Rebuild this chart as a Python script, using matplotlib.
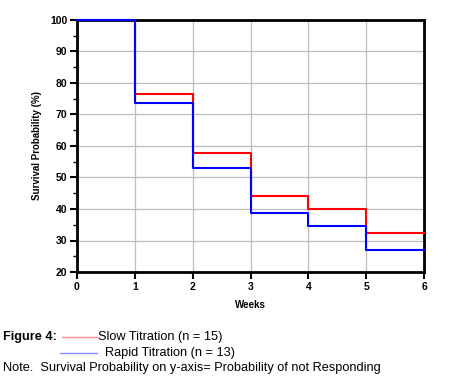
import matplotlib
matplotlib.use("Agg")
import matplotlib.pyplot as plt
from matplotlib.lines import Line2D
import numpy as np

weeks = [0, 1, 2, 3, 4, 5, 6]
slow = [100, 76.5, 57.7, 44.1, 40.0, 32.4, 32.4]
rapid = [100, 73.5, 53.0, 38.8, 34.6, 27.0, 27.0]
xticks = [0, 1, 2, 3, 4, 5, 6]
yticks = [20, 30, 40, 50, 60, 70, 80, 90, 100]

plt.rcParams['font.family'] = ['Liberation Sans', 'DejaVu Sans']

W, H = 455, 379
fig = plt.figure(figsize=(W/100, H/100), dpi=100)
ax = fig.add_axes([77/W, 1-272/H, (424-77)/W, (272-20)/H])

ax.step(weeks, slow, where='post', color='#ff0000', lw=1.5, zorder=3, clip_on=False)
ax.step(weeks, rapid, where='post', color='#0000ff', lw=1.5, zorder=4, clip_on=False)

ax.set_xlim(0, 6)
ax.set_ylim(20, 100)
ax.set_xticks(xticks)
ax.set_yticks(yticks)
ax.set_yticks(np.arange(25, 100, 10), minor=True)
ax.grid(True, color='#bdbdbd', lw=0.9, zorder=0)
ax.set_axisbelow(True)
for s in ax.spines.values():
    s.set_linewidth(2)
    s.set_color('black')
ax.tick_params(axis='both', which='major', direction='out', length=5, width=1.5,
               labelsize=7.5, pad=2)
ax.tick_params(axis='y', which='minor', direction='out', length=3, width=1)
for lbl in ax.get_xticklabels() + ax.get_yticklabels():
    lbl.set_fontweight('bold')
ax.set_xlabel('Weeks', fontsize=7, fontweight='bold', labelpad=6)
ax.set_ylabel('Survival Probability (%)', fontsize=7, fontweight='bold', labelpad=6)

def fy(py):
    return 1 - py / H

fs = 9.2
fig.text(3/W, fy(337), 'Figure 4:', fontsize=fs, fontweight='bold', va='center')
fig.add_artist(Line2D([62/W, 97/W], [fy(337), fy(337)], color='#ff0000', alpha=0.45, lw=1,
                      transform=fig.transFigure))
fig.text(98/W, fy(337), 'Slow Titration (n = 15)', fontsize=fs, va='center')
fig.add_artist(Line2D([60/W, 97/W], [fy(353), fy(353)], color='#0000ff', alpha=0.45, lw=1,
                      transform=fig.transFigure))
fig.text(105/W, fy(353), 'Rapid Titration (n = 13)', fontsize=fs, va='center')
fig.text(3/W, fy(368), 'Note.  Survival Probability on y-axis= Probability of not Responding',
         fontsize=fs, va='center')

fig.savefig('out.png', dpi=100)
